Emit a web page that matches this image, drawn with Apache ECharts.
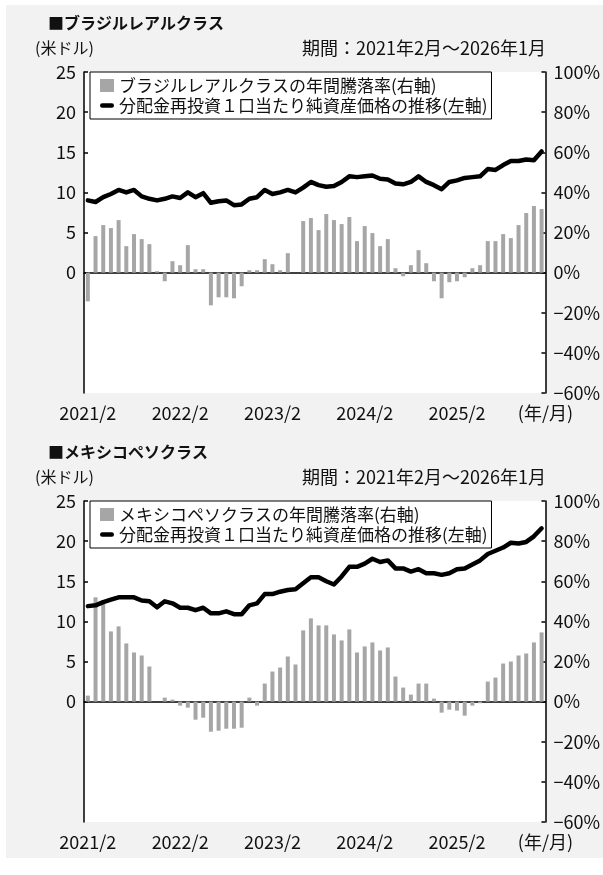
<!DOCTYPE html>
<html>
<head>
<meta charset="utf-8">
<script src="https://cdn.jsdelivr.net/npm/echarts@6/dist/echarts.min.js"></script>
<style>
  body { margin: 0; background: #fff; }
  #bg { position: absolute; left: 6px; top: 5px; width: 597px; height: 853px; background: #f1f2f1; }
  #chart { position: absolute; left: 0; top: 0; width: 603px; height: 875px; }
</style>
</head>
<body>
<div id="bg"></div>
<div id="chart"></div>
<script>
// 2021/2 ~ 2026/1, monthly
var months = [];
for (var y = 2021; y <= 2026; y++) {
    for (var m = 1; m <= 12; m++) {
        if ((y === 2021 && m < 2) || (y === 2026 && m > 1)) continue;
        months.push(y + '/' + m);
    }
}

var leftTicks = [0, 5, 10, 15, 20, 25];

// ブラジルレアルクラス
var brlNav = [
    9.0, 8.8, 9.4, 9.8, 10.3, 10.0, 10.3, 9.5, 9.2, 9.0,
    9.2, 9.5, 9.3, 10.0, 9.4, 9.9, 8.7, 8.9, 9.0, 8.4,
    8.5, 9.2, 9.4, 10.3, 9.8, 10.0, 10.3, 10.0, 10.6, 11.3,
    10.9, 10.7, 10.8, 11.3, 12.0, 11.9, 12.0, 12.1, 11.7, 11.6,
    11.1, 11.0, 11.3, 12.0, 11.3, 10.9, 10.4, 11.3, 11.5, 11.8,
    11.9, 12.0, 12.9, 12.8, 13.4, 13.9, 13.9, 14.1, 14.0, 15.1
];
var brlChange = [
    -14.3, 18.2, 23.7, 22.2, 26.2, 13.2, 19.2, 16.7, 14.2, 0.7,
    -4.3, 5.7, 3.7, 13.7, 1.7, 1.7, -16.3, -12.3, -12.3, -12.8,
    -6.8, 1.2, 1.2, 6.7, 4.2, 1.2, 9.7, 0, 25.7, 27.2,
    21.2, 29.2, 26.2, 24.2, 27.7, 15.7, 23.2, 19.7, 13.2, 16.7,
    2.2, -1.8, 3.7, 11.2, 4.7, -4.3, -12.8, -4.8, -4.3, -2.3,
    2.2, 3.7, 15.7, 15.7, 19.2, 17.2, 23.7, 29.7, 33.2, 31.7
];

// メキシコペソクラス
var mxnNav = [
    11.9, 12.0, 12.4, 12.7, 13.0, 13.0, 13.0, 12.6, 12.5, 11.75,
    12.5, 12.25, 11.7, 11.7, 11.4, 11.7, 11.0, 11.0, 11.25, 10.9,
    10.9, 12.0, 12.25, 13.4, 13.4, 13.7, 13.9, 14.0, 14.75, 15.5,
    15.5, 15.0, 14.6, 15.6, 16.8, 16.8, 17.2, 17.8, 17.4, 17.6,
    16.6, 16.6, 16.2, 16.5, 16.0, 16.0, 15.8, 16.0, 16.5, 16.6,
    17.1, 17.6, 18.4, 18.8, 19.2, 19.8, 19.7, 19.9, 20.6, 21.6
];
var mxnChange = [
    3.0, 52.0, 50.5, 35.0, 37.5, 29.0, 24.5, 23.0, 17.5, 0,
    2.0, 1.0, -2.0, -3.0, -9.0, -8.0, -15.0, -14.5, -13.5, -13.5,
    -13.0, 2.0, -2.0, 9.0, 15.0, 17.0, 22.5, 18.5, 35.5, 41.5,
    38.0, 38.0, 33.5, 30.5, 36.0, 24.5, 27.5, 29.5, 25.5, 27.0,
    12.5, 7.0, 3.5, 9.0, 9.0, 1.5, -5.5, -4.0, -4.5, -7.0,
    -2.0, -0.8, 10.0, 12.0, 19.0, 20.0, 23.0, 24.0, 29.5, 34.5
];

var panels = [
    { title: '■ブラジルレアルクラス', bar: 'ブラジルレアルクラスの年間騰落率(右軸)', nav: brlNav, chg: brlChange },
    { title: '■メキシコペソクラス', bar: 'メキシコペソクラスの年間騰落率(右軸)', nav: mxnNav, chg: mxnChange }
];
var lineName = '分配金再投資１口当たり純資産価格の推移(左軸)';
var period = '期間：2021年2月～2026年1月';

var font = '"Noto Sans CJK JP", sans-serif';
var ink = '#111';
var panelTop = [72, 501];

var option = {
    animation: false,
    textStyle: { fontFamily: font, color: ink },
    title: [], legend: [], grid: [], xAxis: [], yAxis: [], series: []
};

panels.forEach(function (p, i) {
    var top = panelTop[i];
    option.title.push(
        { text: p.title, left: 48, top: top - 57, padding: 0,
          textStyle: { fontFamily: font, fontSize: 16, fontWeight: 'bold', color: ink } },
        { text: '(米ドル)', left: 35, top: top - 32, padding: 0,
          textStyle: { fontFamily: font, fontSize: 16, fontWeight: 'normal', color: ink } },
        { text: period, right: 57, top: top - 33, padding: 0,
          textStyle: { fontFamily: font, fontSize: 18, fontWeight: 'normal', color: ink } }
    );
    option.legend.push({
        orient: 'vertical', left: 90, top: top, padding: [4, 4, 4, 10],
        itemGap: 1, itemWidth: 14, itemHeight: 13,
        backgroundColor: '#fff', borderColor: '#000', borderWidth: 1, borderRadius: 0,
        textStyle: { fontFamily: font, fontSize: 17, color: ink, lineHeight: 19 },
        data: [
            { name: p.bar, icon: 'rect' },
            { name: lineName, icon: 'path://M2.5,0 L13.5,0 A2.5,2.5 0 0 1 13.5,5 L2.5,5 A2.5,2.5 0 0 1 2.5,0 Z',
              itemStyle: { color: '#000' } }
        ]
    });
    option.grid.push({
        left: 84, width: 462, top: top, height: 321,
        show: true, backgroundColor: '#fff', borderWidth: 0
    });
    // bottom labels
    option.xAxis.push({
        type: 'category', gridIndex: i, data: months, position: 'bottom',
        axisLine: { show: false, onZero: false }, axisTick: { show: false },
        axisLabel: { interval: 11, margin: 11, fontSize: 18, color: ink, fontFamily: font },
        name: '(年/月)', nameLocation: 'end', nameGap: 0,
        nameTextStyle: { fontSize: 18, color: ink, fontFamily: font, align: 'center', verticalAlign: 'top', padding: [11, 0, 0, 0] }
    });
    // zero line
    option.xAxis.push({
        type: 'category', gridIndex: i, data: months, position: 'top',
        axisLine: { onZero: true, lineStyle: { color: '#000', width: 1.5 } },
        axisTick: { inside: false, interval: 11, length: 3, lineStyle: { color: '#000', width: 1.5 } },
        axisLabel: { show: false }
    });
    option.yAxis.push({
        type: 'value', gridIndex: i, min: -15, max: 25, interval: 5, position: 'left',
        splitLine: { show: false },
        axisLine: { show: true, lineStyle: { color: '#000', width: 1.5 } },
        axisTick: { show: true, inside: true, length: 4, customValues: leftTicks, lineStyle: { color: '#000', width: 1.5 } },
        axisLabel: { customValues: leftTicks, margin: 8, fontSize: 18, color: ink, fontFamily: font }
    });
    option.yAxis.push({
        type: 'value', gridIndex: i, min: -60, max: 100, interval: 20, position: 'right',
        splitLine: { show: false },
        axisLine: { show: true, lineStyle: { color: '#000', width: 1.5 } },
        axisTick: { show: true, inside: true, length: 4, lineStyle: { color: '#000', width: 1.5 } },
        axisLabel: {
            margin: 8, fontSize: 18, color: ink, fontFamily: font,
            formatter: function (v) { return (v < 0 ? '\u2212' + (-v) : v) + '%'; }
        }
    });
    option.series.push({
        name: p.bar, type: 'bar', xAxisIndex: i * 2, yAxisIndex: i * 2 + 1,
        data: p.chg, barWidth: 4, itemStyle: { color: '#a6a6a6' }, z: 3
    });
    option.series.push({
        name: lineName, type: 'line', xAxisIndex: i * 2, yAxisIndex: i * 2,
        data: p.nav, symbol: 'none', z: 4,
        lineStyle: { color: '#000', width: 4.5, join: 'round', cap: 'round' },
        itemStyle: { color: '#000' }
    });
});

var myChart = echarts.init(document.getElementById('chart'));
myChart.setOption(option);
</script>
</body>
</html>
